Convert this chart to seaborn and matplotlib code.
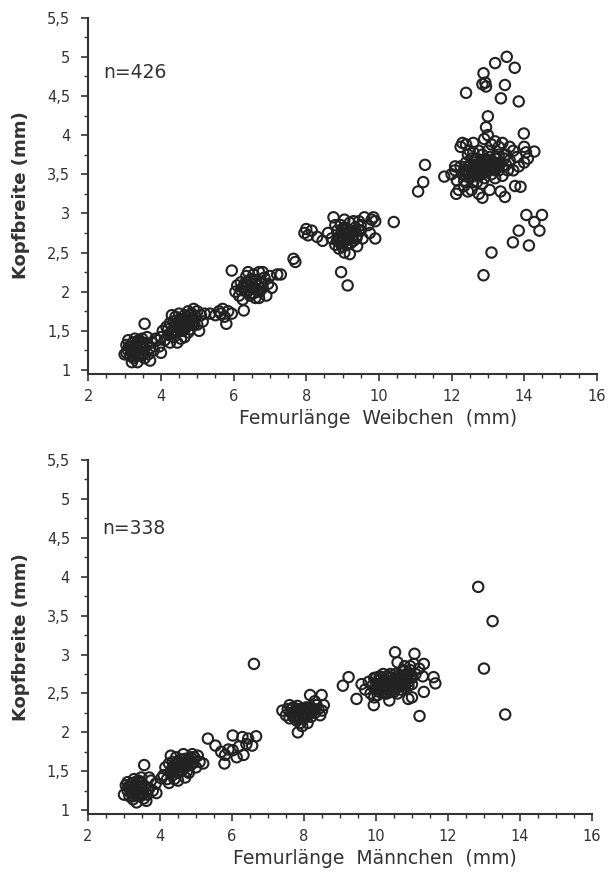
import numpy as np
import pandas as pd
import matplotlib
matplotlib.use('Agg')
import matplotlib.pyplot as plt
from matplotlib.ticker import MultipleLocator, FixedLocator, FixedFormatter
import seaborn as sns

sns.set_style('ticks')
plt.rcParams['font.family'] = ['DejaVu Sans']

# Weibchen: femur length (mm), head width (mm)
w_x1 = [3.0, 3.05, 3.1, 3.1, 3.15, 3.2, 3.2, 3.25, 3.25, 3.3, 3.3, 3.35, 3.35, 3.4, 3.4, 3.45, 3.45, 3.5, 3.5, 3.55,
        3.55, 3.6, 3.55, 3.65, 3.7, 3.75, 3.8, 3.15, 3.28, 3.38, 3.48, 3.2, 3.62, 3.85, 3.95, 4.0, 3.9, 3.7, 3.05, 3.42,
        3.18, 3.22, 3.28, 3.32, 3.36, 3.42, 3.44, 3.5, 3.26, 3.36, 3.12, 3.52]
w_y1 = [1.2, 1.32, 1.25, 1.38, 1.18, 1.3, 1.22, 1.35, 1.15, 1.28, 1.2, 1.33, 1.1, 1.25, 1.38, 1.3, 1.18, 1.22, 1.35, 1.28,
        1.15, 1.32, 1.59, 1.2, 1.28, 1.35, 1.25, 1.3, 1.4, 1.2, 1.4, 1.1, 1.42, 1.4, 1.3, 1.22, 1.38, 1.12, 1.22, 1.3,
        1.26, 1.34, 1.24, 1.32, 1.27, 1.22, 1.35, 1.28, 1.18, 1.37, 1.3, 1.2]
w_x2 = [4.0, 4.05, 4.1, 4.15, 4.2, 4.25, 4.25, 4.3, 4.35, 4.35, 4.4, 4.4, 4.45, 4.5, 4.5, 4.55, 4.55, 4.6, 4.6, 4.65,
        4.7, 4.7, 4.75, 4.75, 4.8, 4.85, 4.85, 4.9, 4.9, 4.95, 5.0, 5.0, 5.05, 5.1, 5.15, 5.2, 4.3, 4.45, 4.65, 4.2,
        4.8, 4.6, 4.38, 4.42, 4.48, 4.52, 4.58, 4.62, 4.68, 4.72, 4.78, 4.82, 4.88, 4.92, 4.55, 4.65]
w_y2 = [1.42, 1.5, 1.38, 1.55, 1.45, 1.6, 1.35, 1.5, 1.62, 1.42, 1.55, 1.68, 1.48, 1.6, 1.72, 1.52, 1.4, 1.65, 1.58, 1.7,
        1.55, 1.62, 1.75, 1.48, 1.65, 1.58, 1.72, 1.78, 1.62, 1.68, 1.58, 1.75, 1.5, 1.7, 1.62, 1.72, 1.7, 1.35, 1.42, 1.52,
        1.52, 1.5, 1.5, 1.6, 1.55, 1.65, 1.55, 1.62, 1.58, 1.68, 1.6, 1.7, 1.65, 1.58, 1.6, 1.52]
w_x3 = [5.35, 5.5, 5.6, 5.7, 5.75, 5.8, 5.85, 5.95, 5.65, 6.28]
w_y3 = [1.72, 1.7, 1.75, 1.78, 1.68, 1.59, 1.75, 1.72, 1.72, 1.76]
w_x4 = [5.95, 6.05, 6.1, 6.15, 6.2, 6.2, 6.25, 6.3, 6.35, 6.35, 6.4, 6.45, 6.45, 6.5, 6.55, 6.55, 6.6, 6.65, 6.7, 6.7,
        6.75, 6.8, 6.85, 6.9, 6.95, 7.0, 7.05, 7.2, 7.3, 6.4, 6.6, 6.8, 6.25, 7.65, 7.7,
        6.3, 6.38, 6.42, 6.5, 6.55, 6.62, 6.68, 6.72, 6.78, 6.48]
w_y4 = [2.27, 2.0, 2.08, 1.95, 2.12, 2.02, 1.9, 2.1, 2.2, 2.0, 2.08, 1.95, 2.15, 2.05, 2.22, 1.98, 2.1, 2.02, 2.25, 1.92,
        2.12, 2.05, 2.18, 1.95, 2.1, 2.2, 2.05, 2.22, 2.22, 2.25, 1.92, 2.25, 2.05, 2.42, 2.38,
        2.05, 2.12, 2.02, 2.1, 2.05, 2.15, 2.08, 2.0, 2.1, 1.98]
w_x5 = [7.95, 8.0, 8.05, 8.15, 8.3, 8.45, 8.6, 8.7, 8.75, 8.8, 8.85, 8.9, 8.9, 8.95, 9.0, 9.0, 9.05, 9.1, 9.1, 9.15,
        9.2, 9.2, 9.25, 9.3, 9.35, 9.4, 9.45, 9.5, 9.55, 9.6, 9.7, 9.75, 9.8, 9.85, 9.9, 9.9, 10.41, 8.96, 9.14, 9.3,
        8.8, 9.05, 9.4, 8.95, 9.1, 8.85, 9.0,
        8.88, 8.95, 9.02, 9.08, 9.12, 9.18, 9.22, 9.28, 9.32, 9.38, 9.45, 8.98, 9.5, 9.05]
w_y5 = [2.75, 2.8, 2.72, 2.78, 2.7, 2.65, 2.75, 2.68, 2.95, 2.6, 2.78, 2.7, 2.55, 2.85, 2.65, 2.75, 2.5, 2.8, 2.6, 2.7,
        2.48, 2.88, 2.75, 2.65, 2.82, 2.72, 2.9, 2.78, 2.68, 2.95, 2.85, 2.75, 2.92, 2.95, 2.9, 2.68, 2.89, 2.25, 2.08, 2.9,
        2.85, 2.92, 2.58, 2.72, 2.7, 2.65, 2.8,
        2.68, 2.62, 2.7, 2.78, 2.66, 2.75, 2.62, 2.72, 2.78, 2.68, 2.78, 2.58, 2.85, 2.82]
w_x6 = [11.08, 11.22, 11.27,
        11.8, 12.0, 12.1, 12.15, 12.13, 12.1, 12.2, 12.3, 12.25, 12.35, 12.4, 12.45, 12.5, 12.55, 12.6, 12.7, 12.75, 12.85,
        12.9, 12.95, 13.0, 13.0, 13.05, 13.1, 13.2, 13.3, 13.35, 13.4, 13.47, 13.5, 13.6, 13.7, 13.7, 13.75, 13.9, 13.85,
        13.99, 14.0, 14.05, 14.1, 14.28, 14.0, 13.8,
        12.3, 12.4, 12.4, 12.5, 12.5, 12.55, 12.6, 12.65, 12.7, 12.7, 12.75, 12.8, 12.8, 12.85, 12.9, 12.9, 12.95, 13.0,
        13.0, 13.05, 13.1, 13.1, 13.15, 13.2, 13.25, 13.3, 13.3, 13.35, 13.4, 13.45, 13.5, 13.55, 12.6, 12.35, 12.45, 13.2,
        13.0, 12.75, 13.4, 12.25, 12.6, 12.85, 13.6, 12.7, 12.9, 13.1, 13.2, 12.55, 12.8, 13.0,
        12.35, 12.45, 12.5, 12.6, 12.65, 12.7, 12.75, 12.8, 12.85, 12.9, 12.95, 13.0, 13.05, 13.1, 13.15, 13.2, 13.25,
        13.3, 12.55, 12.45]
w_y6 = [3.28, 3.4, 3.62,
        3.47, 3.5, 3.55, 3.42, 3.25, 3.6, 3.3, 3.9, 3.85, 3.35, 3.88, 3.28, 3.8, 3.3, 3.9, 3.4, 3.25, 3.2,
        3.95, 4.1, 4.0, 4.24, 3.3, 3.88, 3.92, 3.85, 3.28, 3.9, 3.21, 3.75, 3.85, 3.8, 3.55, 3.35, 3.34, 3.6,
        4.02, 3.65, 3.78, 3.7, 3.79, 3.85, 3.72,
        3.5, 3.55, 3.65, 3.45, 3.6, 3.7, 3.52, 3.62, 3.48, 3.7, 3.58, 3.65, 3.5, 3.75, 3.58, 3.45, 3.68, 3.55,
        3.62, 3.72, 3.5, 3.65, 3.58, 3.7, 3.62, 3.55, 3.75, 3.65, 3.6, 3.7, 3.62, 3.55, 3.4, 3.42, 3.75, 3.45,
        3.8, 3.8, 3.48, 3.6, 3.78, 3.38, 3.68, 3.6, 3.52, 3.6, 3.55, 3.55, 3.6, 3.68,
        3.55, 3.6, 3.52, 3.6, 3.55, 3.62, 3.5, 3.58, 3.62, 3.65, 3.55, 3.68, 3.6, 3.58, 3.66, 3.6, 3.7,
        3.62, 3.48, 3.5]
w_x7 = [12.4, 12.88, 12.93, 12.85, 13.2, 13.52, 13.74, 13.47, 13.36, 13.85, 12.95,
        14.06, 14.49, 14.28, 14.42, 13.85, 13.69, 14.13, 13.1, 12.88]
w_y7 = [4.54, 4.79, 4.67, 4.65, 4.92, 5.0, 4.86, 4.64, 4.47, 4.43, 4.62,
        2.98, 2.98, 2.89, 2.78, 2.78, 2.63, 2.59, 2.5, 2.21]

# Männchen
m_x1 = [3.0, 3.05, 3.1, 3.1, 3.15, 3.2, 3.2, 3.25, 3.25, 3.3, 3.3, 3.35, 3.35, 3.4, 3.4, 3.45, 3.45, 3.5, 3.5, 3.56,
        3.55, 3.6, 3.65, 3.7, 3.75, 3.8, 3.15, 3.28, 3.38, 3.48, 3.62, 3.88, 4.04, 3.9, 3.7, 3.42,
        3.18, 3.22, 3.28, 3.32, 3.36, 3.42, 3.44, 3.5, 3.26, 3.36, 3.12, 3.52]
m_y1 = [1.2, 1.32, 1.25, 1.36, 1.18, 1.3, 1.22, 1.35, 1.14, 1.28, 1.2, 1.33, 1.1, 1.25, 1.38, 1.3, 1.18, 1.22, 1.35, 1.58,
        1.15, 1.3, 1.2, 1.28, 1.38, 1.25, 1.3, 1.4, 1.2, 1.42, 1.12, 1.34, 1.41, 1.22, 1.42, 1.3,
        1.26, 1.34, 1.24, 1.32, 1.27, 1.22, 1.35, 1.28, 1.18, 1.37, 1.3, 1.2]
m_x2 = [4.1, 4.15, 4.2, 4.25, 4.25, 4.3, 4.35, 4.35, 4.4, 4.45, 4.5, 4.5, 4.55, 4.6, 4.6, 4.65, 4.7, 4.7, 4.75, 4.8,
        4.85, 4.9, 4.9, 4.95, 5.0, 5.05, 5.1, 5.2, 4.3, 4.5, 4.7, 4.8, 4.4, 4.6,
        4.4, 4.45, 4.55, 4.6, 4.65, 4.7, 4.75, 4.8, 4.85, 4.5, 4.9, 4.35]
m_y2 = [1.45, 1.55, 1.4, 1.6, 1.35, 1.5, 1.62, 1.45, 1.55, 1.68, 1.48, 1.6, 1.52, 1.65, 1.58, 1.72, 1.55, 1.62, 1.5, 1.65,
        1.58, 1.72, 1.62, 1.68, 1.55, 1.7, 1.62, 1.6, 1.7, 1.38, 1.42, 1.48, 1.4, 1.5,
        1.52, 1.6, 1.58, 1.52, 1.6, 1.66, 1.58, 1.62, 1.68, 1.55, 1.6, 1.55]
m_x3 = [5.33, 5.54, 5.81, 5.79, 6.02, 6.02, 6.29, 6.45, 6.67, 6.56, 6.32, 6.13, 5.7, 5.9, 6.2, 6.4, 6.61]
m_y3 = [1.92, 1.83, 1.71, 1.6, 1.77, 1.96, 1.94, 1.92, 1.95, 1.83, 1.71, 1.68, 1.75, 1.78, 1.82, 1.85, 2.88]
m_x4 = [7.4, 7.5, 7.55, 7.6, 7.65, 7.7, 7.7, 7.75, 7.8, 7.8, 7.85, 7.9, 7.9, 7.95, 8.0, 8.0, 8.05, 8.1, 8.15, 8.2,
        8.2, 8.3, 8.35, 8.4, 8.5, 8.55, 7.83, 8.17, 8.49, 7.95, 8.1, 7.6, 8.3, 8.45,
        7.7, 7.75, 7.8, 7.85, 7.9, 7.95, 8.0, 8.05, 8.1, 8.15, 8.2, 7.65, 8.25, 7.82]
m_y4 = [2.28, 2.22, 2.3, 2.18, 2.25, 2.32, 2.2, 2.26, 2.15, 2.3, 2.22, 2.28, 2.12, 2.25, 2.3, 2.18, 2.25, 2.22, 2.32, 2.28,
        2.2, 2.25, 2.35, 2.3, 2.28, 2.35, 2.0, 2.48, 2.48, 2.08, 2.12, 2.35, 2.4, 2.22,
        2.26, 2.2, 2.28, 2.18, 2.3, 2.22, 2.26, 2.32, 2.24, 2.28, 2.32, 2.3, 2.28, 2.34]
m_x5 = [9.08, 9.24, 9.46, 9.6, 9.7, 9.8, 9.85, 9.9, 9.95, 10.0, 10.0, 10.05, 10.1, 10.1, 10.15, 10.2, 10.2, 10.25, 10.3,
        10.3, 10.35, 10.4, 10.45, 10.5, 10.5, 10.55, 10.6, 10.6, 10.65, 10.7, 10.7, 10.75, 10.8, 10.8, 10.85, 10.9, 10.95,
        11.0, 11.05, 11.1, 11.2, 11.3, 10.53, 11.07, 11.33, 11.6, 11.65, 9.94, 10.37, 10.9, 11.33, 10.6, 10.8, 11.0,
        9.95, 10.15, 10.4, 11.21,
        10.05, 10.1, 10.2, 10.25, 10.3, 10.35, 10.45, 10.5, 10.55, 10.6, 10.65, 10.7, 10.75, 10.8, 10.85, 10.9, 10.95,
        10.1, 10.4, 10.25,
        10.0, 10.1, 10.2, 10.3, 10.4, 10.5, 10.6, 10.7, 10.8, 10.9, 11.0, 10.15, 10.35, 10.55, 10.75, 10.95, 10.45, 10.65]
m_y5 = [2.6, 2.71, 2.43, 2.62, 2.55, 2.65, 2.5, 2.6, 2.7, 2.55, 2.62, 2.48, 2.58, 2.68, 2.6, 2.52, 2.65, 2.58, 2.62,
        2.72, 2.55, 2.65, 2.58, 2.68, 2.52, 2.62, 2.72, 2.58, 2.65, 2.7, 2.6, 2.78, 2.68, 2.62, 2.75, 2.65, 2.8,
        2.7, 2.88, 2.75, 2.82, 2.72, 3.03, 3.01, 2.88, 2.71, 2.63, 2.35, 2.41, 2.43, 2.52, 2.9, 2.85, 2.45,
        2.45, 2.7, 2.75, 2.21,
        2.58, 2.62, 2.58, 2.65, 2.55, 2.62, 2.6, 2.65, 2.58, 2.66, 2.6, 2.68, 2.62, 2.72, 2.68, 2.75, 2.7,
        2.52, 2.7, 2.5,
        2.7, 2.72, 2.75, 2.5, 2.52, 2.55, 2.5, 2.55, 2.58, 2.6, 2.62, 2.55, 2.72, 2.75, 2.8, 2.85, 2.65, 2.7]
m_x6 = [12.84, 13.24, 13.0, 13.59]
m_y6 = [3.87, 3.43, 2.82, 2.23]

weib = pd.DataFrame({'femur': w_x1 + w_x2 + w_x3 + w_x4 + w_x5 + w_x6 + w_x7,
                     'kopf': w_y1 + w_y2 + w_y3 + w_y4 + w_y5 + w_y6 + w_y7})
maen = pd.DataFrame({'femur': m_x1 + m_x2 + m_x3 + m_x4 + m_x5 + m_x6,
                     'kopf': m_y1 + m_y2 + m_y3 + m_y4 + m_y5 + m_y6})

y_ticks = [1, 1.5, 2, 2.5, 3, 3.5, 4, 4.5, 5, 5.5]
y_labels = ['1', '1,5', '2', '2,5', '3', '3,5', '4', '4,5', '5', '5,5']
x_ticks = [2, 4, 6, 8, 10, 12, 14, 16]

fig = plt.figure(figsize=(6.09, 8.83), dpi=100)
ax1 = fig.add_axes([0.145, 0.577, 0.835, 0.403])
ax2 = fig.add_axes([0.1445, 0.0785, 0.8275, 0.4005])

panels = [(ax1, weib, 'Femurlänge  Weibchen  (mm)', 'n=426', 4.8),
          (ax2, maen, 'Femurlänge  Männchen  (mm)', 'n=338', 4.62)]

for ax, df, xlab, ntext, ny in panels:
    sns.scatterplot(data=df, x='femur', y='kopf', ax=ax, s=56, marker='o',
                    facecolor='none', edgecolor='#222222', linewidth=1.5, clip_on=False)
    ax.set_xlim(2, 16)
    ax.set_ylim(0.955, 5.5)
    ax.yaxis.set_major_locator(FixedLocator(y_ticks))
    ax.yaxis.set_major_formatter(FixedFormatter(y_labels))
    ax.yaxis.set_minor_locator(FixedLocator([t + 0.25 for t in y_ticks[:-1]]))
    ax.set_xticks(x_ticks)
    ax.xaxis.set_minor_locator(MultipleLocator(0.5))
    ax.tick_params(which='major', length=5, width=1.2, color='#333333', labelsize=10.5, labelcolor='#333333')
    ax.tick_params(which='minor', length=3, width=1, color='#333333')
    ax.tick_params(axis='y', which='major', pad=8)
    ax.tick_params(axis='x', which='major', pad=6)
    for sp in ['top', 'right']:
        ax.spines[sp].set_visible(False)
    for sp in ['left', 'bottom']:
        ax.spines[sp].set_linewidth(1.5)
        ax.spines[sp].set_color('#333333')
    ax.set_xlabel(xlab, fontsize=13.5, color='#333333')
    ax.xaxis.set_label_coords(0.57, -0.1)
    ax.set_ylabel('Kopfbreite (mm)', fontsize=13, fontweight='bold', color='#333333')
    ax.yaxis.set_label_coords(-0.115, 0.5)
    ax.text(2.4, ny, ntext, fontsize=13.5, color='#333333', va='center')

fig.savefig('out.png', dpi=100)
